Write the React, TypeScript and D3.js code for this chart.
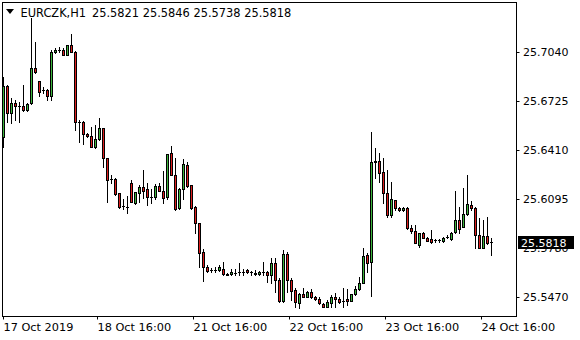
import React from "react";
import * as d3 from "d3";

const symbolTitle = "EURCZK,H1";
const headerValues = "25.5821 25.5846 25.5738 25.5818";
const lastPrice = 25.5818;

const opens = [
  25.6495, 25.6820, 25.6649, 25.6709, 25.6694, 25.6694, 25.6666, 25.6709, 25.6934, 25.6852,
  25.6795, 25.6795, 25.6758, 25.7036, 25.7051, 25.7051, 25.7019, 25.7083, 25.7040, 25.6591,
  25.6590, 25.6513, 25.6500, 25.6427, 25.6479, 25.6549, 25.6357, 25.6222, 25.6222, 25.6133,
  25.6051, 25.6047, 25.6197, 25.6072, 25.6137, 25.6171, 25.6158, 25.6111, 25.6107, 25.6179,
  25.6147, 25.6107, 25.6389, 25.6250, 25.6037, 25.6158, 25.6314, 25.6186, 25.6047, 25.5940,
  25.5755, 25.5660, 25.5640, 25.5643, 25.5639, 25.5648, 25.5618, 25.5614, 25.5624, 25.5628,
  25.5628, 25.5640, 25.5626, 25.5625, 25.5614, 25.5628, 25.5630, 25.5609, 25.5684, 25.5577,
  25.5442, 25.5742, 25.5577, 25.5513, 25.5432, 25.5487, 25.5470, 25.5500, 25.5466, 25.5453,
  25.5424, 25.5406, 25.5432, 25.5470, 25.5457, 25.5444, 25.5453, 25.5444, 25.5487, 25.5517,
  25.5560, 25.5737, 25.5694, 25.6342, 25.6342, 25.6271, 25.6133, 25.5994, 25.6090, 25.6040,
  25.6024, 25.6040, 25.5912, 25.5894, 25.5801, 25.5876, 25.5849, 25.5840, 25.5833, 25.5832,
  25.5827, 25.5850, 25.5840, 25.5883, 25.5962, 25.5919, 25.5998, 25.6058, 25.6040, 25.5865,
  25.5785, 25.5859, 25.5821,
];
const highs = [
  25.6880, 25.6825, 25.6741, 25.6730, 25.6720, 25.6827, 25.6713, 25.7254, 25.7104, 25.6855,
  25.6812, 25.6799, 25.7051, 25.7062, 25.7068, 25.7062, 25.7085, 25.7153, 25.7042, 25.6602,
  25.6593, 25.6517, 25.6559, 25.6570, 25.6615, 25.6551, 25.6358, 25.6250, 25.6230, 25.6135,
  25.6094, 25.6115, 25.6218, 25.6143, 25.6186, 25.6282, 25.6201, 25.6158, 25.6192, 25.6201,
  25.6277, 25.6386, 25.6436, 25.6357, 25.6166, 25.6350, 25.6335, 25.6188, 25.6049, 25.5942,
  25.5774, 25.5673, 25.5657, 25.5660, 25.5673, 25.5692, 25.5622, 25.5648, 25.5646, 25.5688,
  25.5646, 25.5650, 25.5635, 25.5640, 25.5636, 25.5694, 25.5632, 25.5716, 25.5716, 25.5588,
  25.5769, 25.5759, 25.5588, 25.5524, 25.5496, 25.5524, 25.5508, 25.5517, 25.5474, 25.5470,
  25.5432, 25.5449, 25.5481, 25.5492, 25.5470, 25.5524, 25.5517, 25.5490, 25.5539, 25.5598,
  25.5780, 25.5748, 25.6527, 25.6421, 25.6389, 25.6357, 25.6282, 25.6207, 25.6092, 25.6042,
  25.6042, 25.6042, 25.5930, 25.5930, 25.5878, 25.5887, 25.5851, 25.5897, 25.5840, 25.5838,
  25.5855, 25.5865, 25.5887, 25.6147, 25.6047, 25.6169, 25.6250, 25.6083, 25.6042, 25.5972,
  25.5962, 25.5981, 25.5846,
];
const lows = [
  25.6431, 25.6591, 25.6585, 25.6602, 25.6591, 25.6663, 25.6662, 25.6705, 25.6906, 25.6756,
  25.6773, 25.6730, 25.6730, 25.7030, 25.7040, 25.7017, 25.7017, 25.7038, 25.6538, 25.6463,
  25.6449, 25.6495, 25.6427, 25.6421, 25.6474, 25.6303, 25.6077, 25.6197, 25.6122, 25.6038,
  25.6030, 25.6004, 25.6077, 25.6064, 25.6079, 25.6101, 25.6058, 25.6072, 25.6094, 25.6147,
  25.6069, 25.6094, 25.6248, 25.6026, 25.6035, 25.6094, 25.6175, 25.6035, 25.5880, 25.5662,
  25.5573, 25.5628, 25.5631, 25.5631, 25.5635, 25.5612, 25.5608, 25.5610, 25.5610, 25.5610,
  25.5610, 25.5622, 25.5612, 25.5610, 25.5608, 25.5612, 25.5567, 25.5557, 25.5500, 25.5438,
  25.5436, 25.5502, 25.5449, 25.5406, 25.5396, 25.5466, 25.5466, 25.5460, 25.5449, 25.5423,
  25.5404, 25.5402, 25.5402, 25.5406, 25.5428, 25.5406, 25.5417, 25.5442, 25.5483, 25.5515,
  25.5556, 25.5630, 25.5475, 25.6229, 25.6207, 25.6069, 25.5979, 25.5983, 25.6026, 25.6022,
  25.6022, 25.5906, 25.5876, 25.5811, 25.5790, 25.5847, 25.5825, 25.5816, 25.5819, 25.5821,
  25.5819, 25.5844, 25.5833, 25.5876, 25.5876, 25.5917, 25.5994, 25.6026, 25.5785, 25.5783,
  25.5783, 25.5808, 25.5738,
];
const closes = [
  25.6820, 25.6649, 25.6709, 25.6694, 25.6692, 25.6666, 25.6703, 25.6934, 25.6908, 25.6784,
  25.6794, 25.6758, 25.7040, 25.7051, 25.7050, 25.7019, 25.7083, 25.7040, 25.6591, 25.6590,
  25.6513, 25.6500, 25.6431, 25.6479, 25.6549, 25.6357, 25.6218, 25.6222, 25.6126, 25.6047,
  25.6051, 25.6046, 25.6079, 25.6139, 25.6171, 25.6147, 25.6111, 25.6110, 25.6179, 25.6149,
  25.6101, 25.6384, 25.6250, 25.6032, 25.6158, 25.6320, 25.6179, 25.6037, 25.5944, 25.5748,
  25.5660, 25.5633, 25.5639, 25.5642, 25.5660, 25.5614, 25.5612, 25.5628, 25.5624, 25.5628,
  25.5629, 25.5627, 25.5626, 25.5618, 25.5628, 25.5628, 25.5609, 25.5684, 25.5577, 25.5442,
  25.5742, 25.5577, 25.5507, 25.5434, 25.5487, 25.5470, 25.5500, 25.5466, 25.5453, 25.5428,
  25.5406, 25.5438, 25.5470, 25.5453, 25.5438, 25.5443, 25.5444, 25.5487, 25.5517, 25.5560,
  25.5731, 25.5688, 25.6335, 25.6335, 25.6265, 25.6133, 25.5994, 25.6094, 25.6037, 25.6024,
  25.6040, 25.5908, 25.5894, 25.5817, 25.5876, 25.5849, 25.5827, 25.5822, 25.5832, 25.5833,
  25.5848, 25.5850, 25.5876, 25.5962, 25.5904, 25.5998, 25.6062, 25.6037, 25.5865, 25.5785,
  25.5859, 25.5814, 25.5818,
];

const priceTicks = [25.547, 25.578, 25.6095, 25.641, 25.6725, 25.704];
const timeTickBars = [0, 24, 48, 72, 96, 120];
const timeTickLabels = ["17 Oct 2019", "18 Oct 16:00", "21 Oct 16:00", "22 Oct 16:00", "23 Oct 16:00", "24 Oct 16:00"];

const W = 580;
const H = 340;
const frame = { left: 2.5, right: 516.5, top: 2.5, bottom: 316.5 };
const BULL = "#3cb43c";
const BEAR = "#dc1e1e";
const FONT = "DejaVu Sans, Verdana, sans-serif";

export default function App() {
  const n = opens.length;
  const x = d3.scaleLinear().domain([0, n - 1]).range([3.5, 3.5 + 4 * (n - 1)]);
  const y = d3.scaleLinear().domain([25.547, 25.704]).range([296.7, 51.7]);
  const snap = (v: number) => Math.round(v) + 0.5;

  const candles = d3.range(n).map((i) => {
    const cx = x(i);
    const o = opens[i];
    const c = closes[i];
    const yTop = snap(y(Math.max(o, c)));
    const yBot = snap(y(Math.min(o, c)));
    const yHi = Math.round(y(highs[i]));
    const yLo = Math.round(y(lows[i])) + 1;
    const bull = c > o;
    const bodyH = yBot - yTop;
    return (
      <g key={i}>
        <line x1={cx} x2={cx} y1={yHi} y2={yLo} stroke="#000" strokeWidth={1} />
        {bodyH >= 1 ? (
          <rect x={cx - 1} y={yTop} width={2} height={bodyH} fill={bull ? BULL : BEAR} stroke="#000" strokeWidth={1} />
        ) : (
          <line x1={cx - 1.5} x2={cx + 1.5} y1={yTop} y2={yTop} stroke="#000" strokeWidth={1} />
        )}
      </g>
    );
  });

  const lastY = y(lastPrice);
  const boxTop = Math.round(lastY) - 6;

  return (
    <svg width={W} height={H} style={{ position: "absolute", left: 0, top: 0, background: "#fff" }} fontFamily={FONT}>
      <defs>
        <clipPath id="axisClip">
          <rect x={0} y={0} width={W} height={boxTop} />
          <rect x={0} y={boxTop + 13} width={W} height={H} />
        </clipPath>
      </defs>
      <rect x={0} y={0} width={W} height={H} fill="#fff" />
      <g>{candles}</g>
      <rect x={frame.left} y={frame.top} width={frame.right - frame.left} height={frame.bottom - frame.top} fill="none" stroke="#000" strokeWidth={1} />
      {/* price axis */}
      <g clipPath="url(#axisClip)">
        {priceTicks.map((p) => {
          const py = Math.round(y(p)) + 0.5;
          return (
            <g key={p}>
              <line x1={frame.right} x2={frame.right + 3} y1={py} y2={py} stroke="#000" />
              <text x={523} y={py} dy="0.35em" fontSize={11} fill="#000">
                {p.toFixed(4)}
              </text>
            </g>
          );
        })}
      </g>
      <rect x={518} y={boxTop} width={56} height={13} fill="#000" />
      <text x={521} y={lastY} dy="0.38em" fontSize={11} fill="#fff">
        {lastPrice.toFixed(4)}
      </text>
      {/* time axis */}
      {timeTickBars.map((b, k) => {
        const tx = Math.round(x(b)) - 0.5 - (k === 0 ? 0 : 2);
        return (
          <g key={b}>
            <line x1={tx} x2={tx} y1={frame.bottom} y2={frame.bottom + 3} stroke="#000" />
            <text x={tx} y={331} fontSize={11.3} fill="#000">
              {timeTickLabels[k]}
            </text>
          </g>
        );
      })}
      {/* header */}
      <path d="M6,9 L14,9 L10,14 Z" fill="#000" />
      <text x={20.5} y={16.5} fontSize={11.4} fill="#000">
        {symbolTitle}
      </text>
      <text x={92} y={16.5} fontSize={11.4} fill="#000">
        {headerValues}
      </text>
    </svg>
  );
}
